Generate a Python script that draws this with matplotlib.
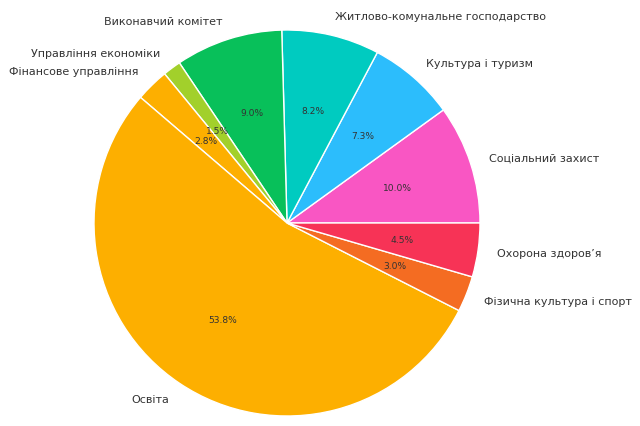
import matplotlib.pyplot as plt

# Budget shares by department (percent)
labels = [
    'Соціальний захист',
    'Культура і туризм',
    'Житлово-комунальне господарство',
    'Виконавчий комітет',
    'Управління економіки',
    'Фінансове управління',
    'Освіта',
    'Фізична культура і спорт',
    'Охорона здоров\u2019я',
]
shares = [9.96, 7.28, 8.18, 8.98, 1.52, 2.78, 53.76, 2.99, 4.50]
colors = ['#F956C3', '#2CBDFC', '#00CBC0', '#08C05A', '#A2D02B',
          '#FDAF00', '#FDAF00', '#F46C22', '#F73356']

fig = plt.figure(figsize=(6.4, 4.27), dpi=100)
# place the pie so its centre and radius line up with the original
r_px = 193
lim = 1.1
side = 2 * r_px * lim
cx, cy = 287, 427 - 224
ax = fig.add_axes([(cx - side / 2) / 640, (cy - side / 2) / 427, side / 640, side / 427])

wedges, texts, autotexts = ax.pie(
    shares,
    labels=labels,
    colors=colors,
    startangle=0,
    autopct='%1.1f%%',
    pctdistance=0.6,
    labeldistance=1.1,
    wedgeprops={'edgecolor': 'white', 'linewidth': 1},
    textprops={'color': '#333333', 'fontsize': 8},
)
for t in autotexts:
    t.set_fontsize(6.6)
    t.set_color('#333333')

ax.set_xlim(-lim, lim)
ax.set_ylim(-lim, lim)
ax.set_aspect('equal')

fig.savefig('out.png', dpi=100, facecolor='white')
